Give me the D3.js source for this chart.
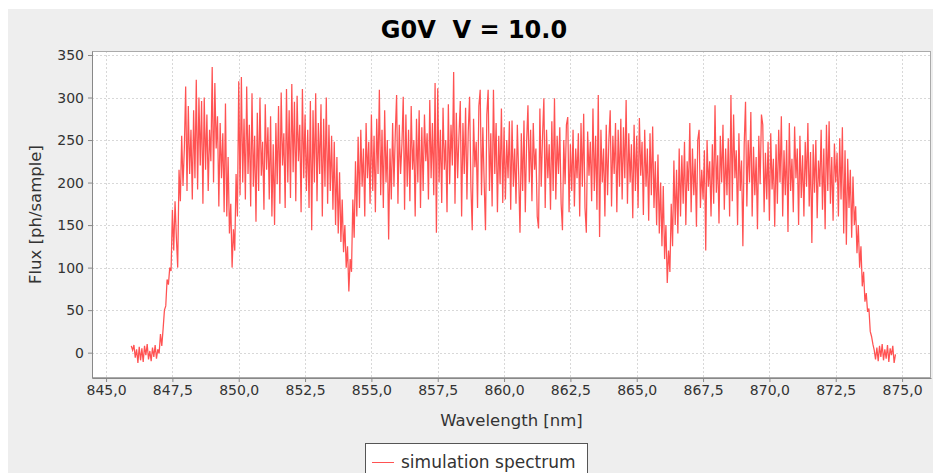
<!DOCTYPE html>
<html>
<head>
<meta charset="utf-8">
<script src="https://cdn.jsdelivr.net/npm/d3@7"></script>
<style>
  body { margin: 0; background: #ffffff; }
  svg { display: block; }
</style>
</head>
<body>
<svg id="chart" width="933" height="473"></svg>
<script>
// ---- labels ----
const chartTitle = "G0V  V = 10.0";
const xAxisLabel = "Wavelength [nm]";
const yAxisLabel = "Flux [ph/sample]";
const seriesName = "simulation spectrum";

// ---- ticks ----
const xTickValues = [845.0, 847.5, 850.0, 852.5, 855.0, 857.5, 860.0, 862.5, 865.0, 867.5, 870.0, 872.5, 875.0];
const yTickValues = [0, 50, 100, 150, 200, 250, 300, 350];

// ---- spectrum samples (0.05 nm per sample, each block starts at its own wavelength) ----
const sampleStep = 0.05;
const blockStarts = [845.95, 847.05, 847.75, 849.50, 850.00, 853.65, 854.50, 860.00, 865.80, 866.65, 873.25, 874.00];

const fluxBlueEdge = [8, 3, 9, -6, 4, -12, 7, -9, 5, -11, 8, -3, 10, -8, 2, -10, 6, -5, 9, -7, 4, -1];
const fluxRise = [22, 8, 28, 50, 55, 86, 80, 100, 96, 168, 120, 178, 135, 100];
const fluxBand1 = [215, 178, 255, 196, 240, 313, 190, 290, 210, 262, 180, 285, 205, 321, 192, 300, 220, 296, 175, 300,
  215, 280, 190, 262, 225, 336, 200, 317, 240, 278, 172, 270, 205, 258, 165];
const fluxDip1 = [293, 160, 230, 140, 175, 100, 145, 120, 210, 160];
const fluxBand2 = [319, 185, 324, 200, 275, 180, 313, 210, 268, 172, 305, 195, 255, 154, 282, 190, 300, 208, 248, 168,
  292, 215, 265, 180, 278, 160, 245, 150, 270, 198, 290, 175, 306, 220, 258, 170, 310, 200, 285, 182,
  316, 212, 295, 178, 302, 225, 268, 165, 310, 205, 280, 190, 262, 170, 296, 144, 285, 200, 305, 178,
  270, 210, 292, 160, 275, 195, 300, 175, 268, 190, 255, 168, 248];
const fluxDip2 = [150, 230, 140, 212, 130, 180, 118, 150, 100, 125, 72, 110, 95, 180, 135, 225, 160];
const fluxBand3 = [254, 170, 262, 195, 240, 160, 270, 205, 248, 175, 280, 190, 255, 165, 275, 210, 309, 185, 262, 170,
  285, 200, 250, 133, 240, 180, 270, 195, 258, 303, 175, 268, 210, 245, 301, 168, 280, 195, 262, 178,
  290, 215, 250, 160, 275, 200, 285, 170, 265, 190, 280, 225, 258, 180, 297, 205, 270, 185, 317, 141,
  311, 200, 262, 176, 288, 215, 250, 165, 292, 198, 268, 220, 330, 175, 282, 205, 255, 296, 160, 270,
  210, 288, 180, 260, 301, 195, 144, 275, 218, 248, 170, 290, 309, 185, 265, 200, 144, 280, 309, 190,
  258, 172, 309, 210, 270, 165, 255, 198, 287, 176];
const fluxBand4 = [265, 180, 250, 205, 272, 168, 273, 195, 240, 175, 268, 210, 141, 258, 190, 273, 165, 248, 291, 200,
  262, 178, 270, 215, 240, 160, 146, 287, 195, 255, 299, 170, 262, 205, 245, 168, 272, 190, 299, 180,
  255, 210, 265, 175, 144, 250, 198, 268, 277, 165, 245, 190, 262, 172, 240, 205, 258, 160, 270, 195,
  281, 170, 141, 260, 208, 248, 178, 287, 190, 255, 168, 303, 136, 262, 200, 240, 160, 268, 185, 250,
  285, 172, 255, 210, 270, 165, 262, 195, 275, 180, 265, 205, 297, 175, 258, 200, 245, 158, 268, 190,
  255, 170, 276, 208, 248, 162, 262, 195, 240, 155, 258, 185, 266, 170, 225, 150];
const fluxDip3 = [233, 140, 200, 125, 196, 110, 150, 82, 120, 95, 175, 125, 226, 150, 215, 140, 240];
const fluxBand5 = [160, 232, 175, 248, 150, 225, 190, 270, 165, 240, 185, 228, 148, 250, 262, 170, 215, 180, 238, 120,
  250, 195, 225, 160, 245, 175, 291, 188, 232, 152, 255, 200, 268, 168, 240, 185, 252, 160, 303, 178,
  280, 205, 238, 150, 258, 190, 226, 125, 245, 295, 172, 250, 200, 283, 160, 242, 185, 230, 145, 255,
  198, 280, 268, 165, 235, 180, 248, 155, 258, 192, 228, 148, 245, 175, 262, 200, 278, 160, 238, 185,
  250, 142, 270, 190, 228, 165, 266, 205, 240, 150, 255, 182, 232, 160, 248, 195, 270, 172, 236, 129,
  245, 188, 250, 158, 226, 195, 262, 168, 240, 145, 268, 190, 272, 175, 230, 155, 246, 200, 235, 160,
  252, 180, 265, 140, 238, 127, 228, 170, 215, 135, 207, 150];
const fluxFall = [172, 117, 150, 100, 125, 78, 95, 60, 70, 48, 52, 25, 19, 10, 3];
const fluxRedEdge = [-8, 6, -10, 8, -5, 10, -9, 4, -7, 9, -11, 5, -3, 8, -12, -2];

const fluxBlocks = [fluxBlueEdge, fluxRise, fluxBand1, fluxDip1, fluxBand2, fluxDip2,
  fluxBand3, fluxBand4, fluxDip3, fluxBand5, fluxFall, fluxRedEdge];

const spectrum = [];
fluxBlocks.forEach((block, k) => {
  block.forEach((flux, i) => {
    spectrum.push({ wavelength: blockStarts[k] + i * sampleStep, flux: flux });
  });
});

// ---- layout ----
const svg = d3.select("#chart");
const plot = { left: 92, top: 51, right: 931, bottom: 378 };
const lineColor = "#ff5252";
const gridColor = "#d8d8d8";
const axisColor = "#888888";
const labelColor = "#333333";

const x = d3.scaleLinear().domain([844.47, 876.09]).range([plot.left, plot.right]);
const y = d3.scaleLinear().domain([-29.8, 354.7]).range([plot.bottom, plot.top]);

// chart panel
svg.append("rect")
  .attr("x", 8).attr("y", 9).attr("width", 925).attr("height", 464)
  .attr("fill", "#eeeeee");

// plot background
svg.append("rect")
  .attr("x", plot.left).attr("y", plot.top)
  .attr("width", plot.right - plot.left).attr("height", plot.bottom - plot.top)
  .attr("fill", "#ffffff");

// grid lines
const grid = svg.append("g").attr("stroke", gridColor).attr("stroke-width", 1)
  .attr("stroke-dasharray", "2,2").attr("shape-rendering", "crispEdges");
grid.selectAll("line.vx").data(xTickValues).join("line")
  .attr("x1", d => Math.round(x(d)) + 0.5).attr("x2", d => Math.round(x(d)) + 0.5)
  .attr("y1", plot.top).attr("y2", plot.bottom);
grid.selectAll("line.hy").data(yTickValues).join("line")
  .attr("y1", d => Math.round(y(d)) + 0.5).attr("y2", d => Math.round(y(d)) + 0.5)
  .attr("x1", plot.left).attr("x2", plot.right);

// spectrum line
const line = d3.line().x(d => x(d.wavelength)).y(d => y(d.flux));
svg.append("path")
  .datum(spectrum)
  .attr("fill", "none")
  .attr("stroke", lineColor)
  .attr("stroke-width", 1.25)
  .attr("stroke-linejoin", "miter")
  .attr("d", line);

// plot outline
svg.append("rect")
  .attr("x", plot.left + 0.5).attr("y", plot.top + 0.5)
  .attr("width", plot.right - plot.left - 1).attr("height", plot.bottom - plot.top - 1)
  .attr("fill", "none").attr("stroke", "#aaaaaa").attr("stroke-width", 1);

// axes
const fmtX = v => d3.format(".1f")(v).replace(".", ",");
const xAxis = d3.axisBottom(x).tickValues(xTickValues).tickFormat(fmtX).tickSizeInner(4).tickSizeOuter(0).tickPadding(3);
const yAxis = d3.axisLeft(y).tickValues(yTickValues).tickFormat(d3.format("d")).tickSizeInner(4).tickSizeOuter(0).tickPadding(4);

const gx = svg.append("g").attr("transform", `translate(0,${plot.bottom})`).call(xAxis);
const gy = svg.append("g").attr("transform", `translate(${plot.left},0)`).call(yAxis);
[gx, gy].forEach(g => {
  g.select(".domain").attr("stroke", axisColor);
  g.selectAll(".tick line").attr("stroke", axisColor);
  g.selectAll(".tick text")
    .attr("fill", labelColor)
    .attr("font-family", "DejaVu Sans, sans-serif")
    .attr("font-size", 14);
});

// title (keeps the double space)
svg.append("text")
  .attr("x", 474).attr("y", 38)
  .attr("text-anchor", "middle")
  .attr("font-family", "DejaVu Sans, sans-serif")
  .attr("font-weight", "bold")
  .attr("font-size", 24)
  .attr("fill", "#000000")
  .style("white-space", "pre")
  .text(chartTitle);

// axis labels
svg.append("text")
  .attr("x", (plot.left + plot.right) / 2).attr("y", 426)
  .attr("text-anchor", "middle")
  .attr("font-family", "DejaVu Sans, sans-serif")
  .attr("font-size", 16.5)
  .attr("fill", labelColor)
  .text(xAxisLabel);

svg.append("text")
  .attr("transform", `translate(41,${(plot.top + plot.bottom) / 2}) rotate(-90)`)
  .attr("text-anchor", "middle")
  .attr("font-family", "DejaVu Sans, sans-serif")
  .attr("font-size", 16.5)
  .attr("fill", labelColor)
  .text(yAxisLabel);

// legend
const legend = svg.append("g");
legend.append("rect")
  .attr("x", 365.5).attr("y", 443.5).attr("width", 222).attr("height", 34)
  .attr("fill", "#ffffff").attr("stroke", "#555555").attr("stroke-width", 1);
legend.append("line")
  .attr("x1", 372).attr("x2", 394).attr("y1", 462.5).attr("y2", 462.5)
  .attr("stroke", lineColor).attr("stroke-width", 1);
legend.append("text")
  .attr("x", 401).attr("y", 468)
  .attr("font-family", "DejaVu Sans, sans-serif")
  .attr("font-size", 17)
  .attr("fill", labelColor)
  .text(seriesName);
</script>
</body>
</html>
